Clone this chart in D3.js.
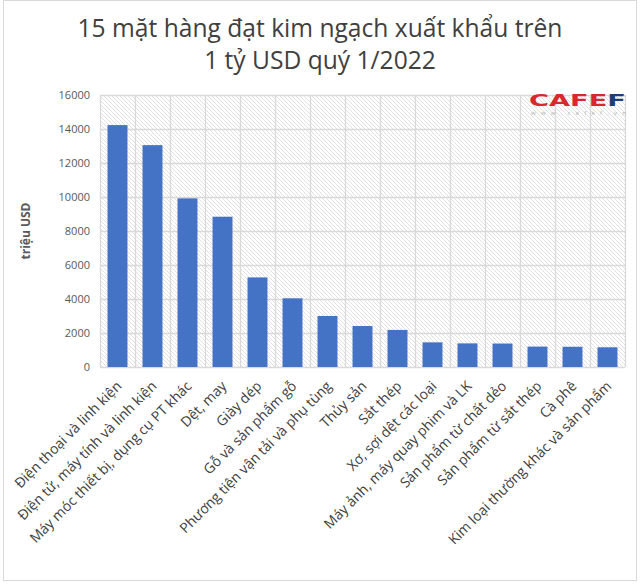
<!DOCTYPE html>
<html>
<head>
<meta charset="utf-8">
<script src="https://cdn.jsdelivr.net/npm/d3@7/dist/d3.min.js"></script>
<style>
  body { margin: 0; background: #fff; }
  svg { display: block; font-family: "Open Sans", "Noto Sans", sans-serif; }
</style>
</head>
<body>
<svg id="chart" width="640" height="584"></svg>
<script>
const categories = [
  "Điện thoại và linh kiện",
  "Điện tử, máy tính và linh kiện",
  "Máy móc thiết bị, dụng cụ PT khác",
  "Dệt, may",
  "Giày dép",
  "Gỗ và sản phẩm gỗ",
  "Phương tiện vận tải và phụ tùng",
  "Thủy sản",
  "Sắt thép",
  "Xơ, sợi dệt các loại",
  "Máy ảnh, máy quay phim và LK",
  "Sản phẩm từ chất dẻo",
  "Sản phẩm từ sắt thép",
  "Cà phê",
  "Kim loại thường khác và sản phẩm"
];
const values = [14230, 13050, 9920, 8840, 5270, 4040, 3000, 2410, 2180, 1450, 1390, 1380, 1200, 1190, 1160];
const yTicks = [0, 2000, 4000, 6000, 8000, 10000, 12000, 14000, 16000];
const titleLines = ["15 mặt hàng đạt kim ngạch xuất khẩu trên", "1 tỷ USD quý 1/2022"];
const yAxisTitle = "triệu USD";

const svg = d3.select("#chart");
const W = 640, H = 584;
const m = { left: 100, right: 15, top: 95, bottom: 217 };
const pw = W - m.left - m.right, ph = H - m.top - m.bottom;

// outer border
svg.append("rect").attr("x", 3.5).attr("y", 0.5).attr("width", W - 7).attr("height", H - 4)
  .attr("fill", "#fff").attr("stroke", "#d9d9d9");

// hatch pattern
const defs = svg.append("defs");
const pat = defs.append("pattern").attr("id", "hatch").attr("patternUnits", "userSpaceOnUse")
  .attr("width", 4).attr("height", 4);
pat.append("rect").attr("width", 4).attr("height", 4).attr("fill", "#fff");
pat.append("path").attr("d", "M-1,-1L5,5M-1,3L1,5M3,-1L5,1")
  .attr("stroke", "#dcdcdc").attr("stroke-width", 0.9);

const x = d3.scaleBand().domain(categories).range([m.left, m.left + pw]).paddingInner(0.43).paddingOuter(0.215);
const y = d3.scaleLinear().domain([0, 16000]).range([m.top + ph, m.top]);

const g = svg.append("g");
g.append("rect").attr("x", m.left).attr("y", m.top).attr("width", pw).attr("height", ph)
  .attr("fill", "url(#hatch)");

// horizontal gridlines
g.append("g").selectAll("line").data(yTicks).join("line")
  .attr("x1", m.left).attr("x2", m.left + pw)
  .attr("y1", d => Math.round(y(d)) + 0.5).attr("y2", d => Math.round(y(d)) + 0.5)
  .attr("stroke", "#d9d9d9").attr("stroke-width", 1.3);

// vertical gridlines (category boundaries)
const bounds = d3.range(categories.length + 1).map(i => m.left + i * pw / categories.length);
g.append("g").selectAll("line").data(bounds).join("line")
  .attr("x1", d => Math.round(d) + 0.5).attr("x2", d => Math.round(d) + 0.5)
  .attr("y1", m.top).attr("y2", m.top + ph)
  .attr("stroke", "#d9d9d9").attr("stroke-width", 1.3);

// bars
g.append("g").selectAll("rect").data(values).join("rect")
  .attr("x", (d, i) => x(categories[i]))
  .attr("y", d => y(d))
  .attr("width", x.bandwidth())
  .attr("height", d => y(0) - y(d))
  .attr("fill", "#4472c4");

// y axis
const yAxis = d3.axisLeft(y).tickValues(yTicks).tickSize(0).tickPadding(10).tickFormat(d3.format("d"));
const ya = svg.append("g").attr("transform", `translate(${m.left},0)`).call(yAxis);
ya.select(".domain").remove();
ya.selectAll("text").attr("fill", "#595959").attr("font-size", 11).attr("font-family", "Open Sans, sans-serif");

// x axis labels
const xAxis = d3.axisBottom(x).tickSize(0).tickPadding(0);
const xa = svg.append("g").attr("transform", `translate(0,${m.top + ph})`).call(xAxis);
xa.select(".domain").remove();
xa.selectAll("text")
  .attr("fill", "#404040").attr("font-size", 14).attr("font-family", "Open Sans, sans-serif")
  .attr("text-anchor", "end")
  .attr("dy", null).attr("y", 0)
  .attr("transform", "translate(5,20) rotate(-45)");

// y-axis title
svg.append("text").attr("transform", `translate(30,${m.top + ph / 2}) rotate(-90)`)
  .attr("text-anchor", "middle").attr("font-size", 12).attr("font-weight", "bold")
  .attr("fill", "#595959").text(yAxisTitle);

// title
svg.append("g").selectAll("text").data(titleLines).join("text")
  .attr("x", W / 2).attr("y", (d, i) => 37 + i * 32)
  .attr("text-anchor", "middle").attr("font-size", 24.6).attr("fill", "#404040")
  .text(d => d);

// logo
const logo = svg.append("g").attr("transform", "translate(529,106)");
const lt = logo.append("text").attr("font-family", "DejaVu Sans, sans-serif").attr("font-weight", "bold")
  .attr("font-size", 15).attr("textLength", 97).attr("lengthAdjust", "spacingAndGlyphs");
lt.append("tspan").attr("fill", "#d8282e").text("CAFE");
lt.append("tspan").attr("fill", "#1e3f75").text("F");
logo.append("text").attr("x", 2).attr("y", 9).attr("font-size", 6).attr("fill", "#b0b0b0")
  .attr("textLength", 95).attr("lengthAdjust", "spacing").text("www.cafef.vn");
</script>
</body>
</html>
